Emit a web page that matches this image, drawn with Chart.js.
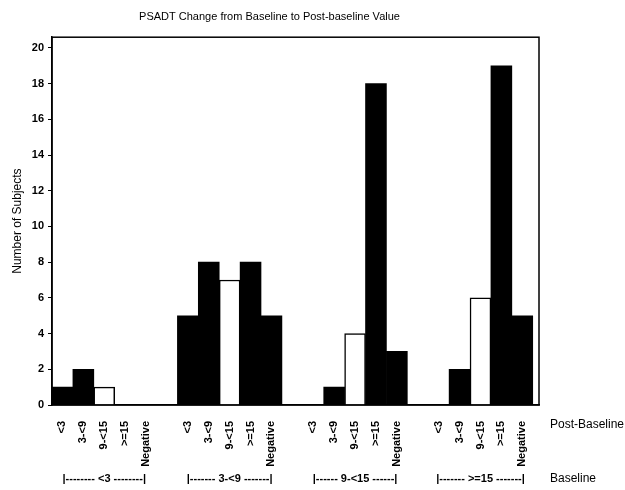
<!DOCTYPE html>
<html lang="en">
<head>
    <meta charset="UTF-8">
    <title>PSADT Change from Baseline to Post-baseline Value</title>
    <style>
        html, body { margin: 0; padding: 0; background: #fff; }
        #wrap { width: 625px; height: 490px; }
    </style>
</head>
<body>
    <div id="wrap"><canvas id="grafico" width="625" height="490"></canvas></div>

    <script src="https://cdn.jsdelivr.net/npm/chart.js"></script>
    <script>
        // categories
        const postBaseline = ['<3', '3-<9', '9-<15', '>=15', 'Negative'];
        const baselineGroups = ['<3', '3-<9', '9-<15', '>=15'];
        const baselineText = ['|-------- <3 --------|', '|------- 3-<9 -------|', '|------ 9-<15 ------|', '|------- >=15 -------|'];

        // number of subjects, one array per baseline group
        const baseLt3 = [1, 2, 1, 0, 0];
        const base3to9 = [5, 8, 7, 8, 5];
        const base9to15 = [0, 1, 4, 18, 3];
        const baseGe15 = [0, 2, 6, 19, 5];

        const yTicks = [0, 2, 4, 6, 8, 10, 12, 14, 16, 18, 20];

        const groups = [baseLt3, base3to9, base9to15, baseGe15];
        const slot = postBaseline.length + 1; // 5 bars + one gap

        // build points and tick positions
        const pontos = [];
        const cores = [];
        const bordas = [];
        const tickPos = [];
        const tickLabel = {};
        groups.forEach((vals, g) => {
            vals.forEach((v, i) => {
                const x = g * slot + i;
                pontos.push({ x: x, y: v });
                cores.push(i === 2 ? '#ffffff' : '#000000');
                bordas.push(i === 2 ? 1.5 : 0);
                tickPos.push(x);
                tickLabel[x] = postBaseline[i];
            });
        });

        const fonte = '"Liberation Sans", Arial, sans-serif';

        // frame + the two label rows under the axis
        const extras = {
            id: 'extras',
            afterDraw(chart) {
                const ctx = chart.ctx;
                const a = chart.chartArea;
                const xs = chart.scales.x;
                ctx.save();
                ctx.strokeStyle = '#000';
                ctx.lineWidth = 1.5;
                ctx.strokeRect(a.left, a.top, a.right - a.left, a.bottom - a.top);

                ctx.fillStyle = '#000';
                ctx.textBaseline = 'middle';
                ctx.font = 'bold 11px ' + fonte;
                ctx.textAlign = 'center';
                baselineGroups.forEach((b, g) => {
                    const cx = xs.getPixelForValue(g * slot + 2);
                    ctx.fillText(baselineText[g], cx, 479);
                });

                ctx.font = '12px ' + fonte;
                ctx.textAlign = 'left';
                ctx.fillText('Post-Baseline', a.right + 11, 425);
                ctx.fillText('Baseline', a.right + 11, 479);
                ctx.restore();
            }
        };

        new Chart(document.getElementById('grafico'), {
            type: 'bar',
            data: {
                datasets: [{
                    label: 'Number of Subjects',
                    data: pontos,
                    backgroundColor: cores,
                    borderColor: '#000000',
                    borderWidth: bordas,
                    barPercentage: 1,
                    categoryPercentage: 1
                }]
            },
            options: {
                responsive: false,
                animation: false,
                layout: { padding: { left: 0, right: 86, top: 0, bottom: 0 } },
                plugins: {
                    legend: { display: false },
                    tooltip: { enabled: false },
                    title: {
                        display: true,
                        text: 'PSADT Change from Baseline to Post-baseline Value',
                        color: '#000',
                        font: { family: fonte, size: 11, weight: 'normal' },
                        padding: { top: 10, bottom: 14 }
                    }
                },
                scales: {
                    x: {
                        type: 'linear',
                        min: -0.5,
                        max: 22.8,
                        offset: false,
                        grid: { display: false },
                        border: { display: true, color: '#000', width: 1.5 },
                        afterBuildTicks: (scale) => {
                            scale.ticks = tickPos.map(v => ({ value: v }));
                        },
                        afterFit: (scale) => { scale.height = 85; },
                        ticks: {
                            autoSkip: false,
                            minRotation: 90,
                            maxRotation: 90,
                            padding: 8,
                            color: '#000',
                            font: { family: fonte, size: 11, weight: 'bold' },
                            callback: (v) => tickLabel[v] || ''
                        }
                    },
                    y: {
                        min: 0,
                        max: 20.6,
                        border: { display: true, color: '#000', width: 1.5 },
                        grid: { display: true, drawOnChartArea: false, tickLength: 4, color: '#000' },
                        afterBuildTicks: (scale) => {
                            scale.ticks = yTicks.map(v => ({ value: v }));
                        },
                        afterFit: (scale) => { scale.width = 52; },
                        ticks: {
                            padding: 4,
                            color: '#000',
                            font: { family: fonte, size: 11, weight: 'bold' }
                        },
                        title: {
                            display: true,
                            text: 'Number of Subjects',
                            color: '#000',
                            font: { family: fonte, size: 12, weight: 'normal' },
                            padding: { top: 10, bottom: 0 }
                        }
                    }
                }
            },
            plugins: [extras]
        });
    </script>
</body>
</html>
